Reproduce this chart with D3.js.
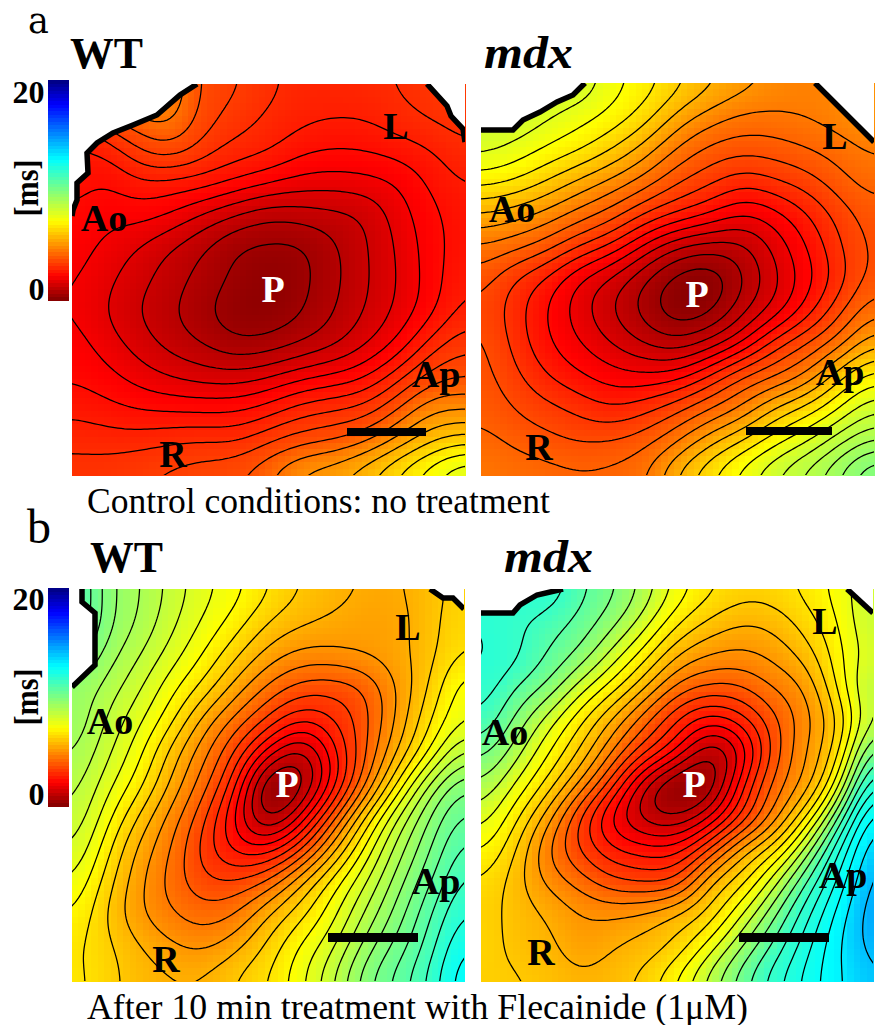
<!DOCTYPE html>
<html><head><meta charset="utf-8">
<style>html,body{margin:0;padding:0;background:#fff}svg{display:block}text{font-family:"Liberation Serif",serif}</style>
<script src="https://cdnjs.cloudflare.com/ajax/libs/d3/7.8.5/d3.min.js"></script>
</head><body><div id="c"></div>
<script>
// Isochrone index on a 13x13 lattice (row = top to bottom).
const isoControlWT = [
[7,12,13,12,9.7,9.2,8.3,7.6,7.7,7.8,8.1,8.5,9],
[7,10,11,11.5,9.5,8.6,7.8,7.3,7.05,7.1,7.7,8.2,8.5],
[7,7.1,9,9.8,8.5,7.6,7.2,6.3,6,6.1,6.5,7,7.9],
[6.5,5.95,6.8,6.7,6.5,5.85,5.2,4.6,4.5,4.7,5.1,6.3,7.1],
[5.9,5.3,5.5,5,3.9,3,2.25,2.5,2.75,3.1,4.6,5.7,6.7],
[5.5,4.8,4,3,2.1,1,.8,.8,1.85,2.95,4.2,5.6,6.6],
[5.2,4.3,3.4,2.5,1.65,.8,.2,.7,1.75,2.9,4.1,5.55,6.95],
[5.1,4,3,2.15,1.2,.3,.2,.9,2,3.1,4.3,5.75,7.5],
[5.5,4.6,3.6,2.65,2,1.2,1.4,2.1,2.8,3.95,5.3,7.6,8.8],
[5.9,5.4,4.6,4,3.6,3.5,4,4.8,5.3,6,7.75,9.6,10],
[6.75,6.4,6,5.85,5.8,5.85,6.5,7.6,8,8.5,10.2,11.9,12],
[7.75,7.6,7.6,7.95,8.1,8,9,9.7,10.1,11,12.5,14,14.7],
[8.5,8.6,9,9.3,9.7,10,11,12.5,13,14,15.5,17,18.5]];
const isoControlMdx = [
[18,18,18,18,16.4,15.6,14.4,13.3,12.5,11.8,11.4,11.5,12],
[18,18,17.2,16.4,15.7,14.6,12.7,11.6,10.8,10.85,11.15,11.6,12.2],
[17.4,16.75,15.9,15.25,14.1,12.6,10.9,9.75,9.4,9.55,10,10.55,11.2],
[15.4,15,14,12.8,11.75,10.6,9.1,8.3,7.35,8,8.6,9.75,10.55],
[13,12.45,11.7,10.6,9.6,8,7,6.05,4.95,5.7,7,8.5,9.6],
[10.9,10.4,9.5,8,6.8,4.75,3,2.5,2.7,4.35,6.1,8,9.4],
[9.6,7.9,6.8,4.9,3.7,2,.5,.1,1.9,3.8,5.65,7.6,9.6],
[8.9,7.5,6,4.45,3,1.6,.2,.7,2.8,4.4,6.6,8.9,10.9],
[9.4,7.7,6.2,5.1,4,3,2.4,3.5,5.1,7.8,9.2,10.7,13],
[9.45,8.35,7.05,6.2,5.5,5.3,5.65,7.3,9.25,10,11.3,14,15.65],
[9.8,9,8.4,7.8,7.1,7.75,8.85,10.1,11.2,13.3,14.6,16.2,18],
[10.4,9.8,9.35,8.95,9.15,9.7,10.95,12.8,14.2,15.8,17,18.9,20.3],
[11.1,10.7,10.5,10.3,10.4,10.9,13.4,15,16.6,18.15,19.6,21.3,23.5]];
const isoFlecWT = [
[24,20.4,19.2,17.7,16.4,15.4,14.15,13,12.4,11.9,11.9,12.6,13.5],
[24,20.4,19,17.35,15.9,14.6,13,12.2,11.8,11.5,11.6,12.7,13.8],
[22,19.6,18.2,16.6,15,13.25,11.6,10.7,10.8,11.2,11.7,12.7,14.2],
[20,18.7,17.3,15.4,13.8,11.6,9.8,8.6,8.4,9,11.2,13.1,15.9],
[20,18,16.35,14.45,11.7,9.7,7.9,6,7.1,8.7,11.35,14,16.1],
[19.3,17.35,15.5,12.7,10.35,8,4.6,2.2,5.6,9,12.1,15.1,18.5],
[18.6,16.5,14.55,11.85,9.5,6.55,.2,1.2,5.4,9.9,14.3,18.5,21],
[18,15.55,12.95,10.6,8.4,4.8,1.2,4.25,8.75,13.3,17.25,20.2,22.4],
[17.2,14.5,11.75,10.1,7.6,5.7,5.5,8,11.8,15.4,18.65,21,23.6],
[16.15,13.6,11.35,9.65,8.3,8.2,9.3,12,14.6,17,19.7,22,24.5],
[15.15,13,11.2,10.2,9.5,10,12.1,13.7,15.7,18.3,20.6,23,25.3],
[14.3,13.4,12.2,11.3,10.8,11.8,13.3,15.25,16.85,19.6,21.5,23.65,26.3],
[14.4,13.5,12.5,12.2,12.2,13.2,14.05,15.75,18,20.8,22.5,24.4,27]];
const isoFlecMdx = [
[22,22,22,20.3,19.3,17.75,15.7,14.35,13.6,13.7,14.4,15.5,17],
[22,21.2,20.5,19.75,18.45,16.6,14.2,12.8,12,12.35,13.6,15.1,17.3],
[22.3,21.4,20,18.9,16.7,14.55,12,11,10.8,11.35,12.5,14.8,16.7],
[21.8,20,19,16.6,14.6,12.2,9.65,8.85,8.9,10.2,11.1,14.5,17.8],
[21,18.9,16.7,14.35,11.9,9.3,7,5.3,6.7,8.8,10.7,13,17.6],
[19.5,17.6,15.2,12.95,10.1,7.4,5.15,1.6,3.9,8.7,11.1,13.7,20.2],
[18,16,13.75,10.95,7.5,2.8,.2,.6,6.1,9.6,11.3,15.7,22.8],
[16.7,14.4,11.6,7.9,4.45,2.4,1.9,4,7.2,10.5,14.1,19.4,25.2],
[15.2,13.25,10,8,6.25,5.7,5.6,8.2,11.8,13.7,17.65,22.2,26.2],
[14,12.5,10.85,9.7,8.3,7.95,8.1,12.2,13.6,16.8,20.25,23.5,26.6],
[13.5,12.7,12,11.1,11,11.4,12.45,13.3,16.1,19,21.85,24.6,26.8],
[13.7,12.6,12.4,11.3,11.95,12.4,13.2,15.6,18.2,20.4,22.8,25.1,26.4],
[13.3,13.2,12.8,12.3,12.6,13.4,15.3,17.6,19.7,21.7,23.5,24.9,26]];

const colorbarTicks = [0, 20];
const captions = ["Control conditions: no treatment", "After 10 min treatment with Flecainide (1μM)"];
const jetStops = [0, 2.2, 7.2, 12.8, 17.8, 20];
const jetColors = ["#800000", "#ff0000", "#ffff00", "#00ffff", "#0000ff", "#000080"];
// isochrone index -> ms
const msControlWT = [[0,5.5,10,12,17,20],[.2,2.2,3.7,4.9,7.4,8.8]];
const msControlMdx = [[0,6,11,18,26],[.1,2.3,4.5,8.3,11]];
const msFlecWT = [[0,5,8,12,16,21,24,27],[.1,2.2,3.4,5.6,7.6,10,11.3,13]];
const msFlecMdx = [[0,5,8,12,16,21,25,27],[.1,2.2,3.4,5.6,7.6,11.5,13,15]];

const panels = [
 {grid:isoControlWT, ms:msControlWT, x0:72,x1:465,y0:84,y1:475,
  masks:[[[72,84],[197,84],[180,95],[157,115],[133,125],[113,133],[97,143],[87,153],[88,173],[77,183],[77,200],[73,210],[72,216]],
         [[465,84],[427,84],[447,106],[451,116],[463,129],[465,142]]],
  labels:[["L",396,139,"#000"],["Ao",104,231,"#000"],["P",273,302,"#fff"],["Ap",436,387,"#000"],["R",173,467,"#000"]],
  bar:[347,426,432]},
 {grid:isoControlMdx, ms:msControlMdx, x0:481,x1:874,y0:83,y1:475,
  masks:[[[481,83],[585,83],[573,95],[557,102],[540,112],[523,120],[513,130],[481,130]],
         [[874,83],[815,83],[874,142]]],
  labels:[["L",835,149,"#000"],["Ao",512,222,"#000"],["P",697,307,"#fff"],["Ap",840,385,"#000"],["R",539,460,"#000"]],
  bar:[746,832,431]},
 {grid:isoFlecWT, ms:msFlecWT, x0:72,x1:464,y0:589,y1:981,
  masks:[[[72,589],[82,589],[82,602],[95,613],[95,665],[72,687]],
         [[464,589],[430,589],[443,598],[453,598],[464,609]]],
  labels:[["L",408,640,"#000"],["Ao",110,734,"#000"],["P",287,797,"#fff"],["Ap",436,894,"#000"],["R",166,972,"#000"]],
  bar:[328,418,937]},
 {grid:isoFlecMdx, ms:msFlecMdx, x0:481,x1:873,y0:589,y1:981,
  masks:[[[481,589],[563,589],[537,595],[520,605],[513,613],[481,613]],
         [[873,589],[847,589],[873,613]]],
  labels:[["L",825,634,"#000"],["Ao",505,745,"#000"],["P",694,797,"#fff"],["Ap",843,888,"#000"],["R",541,965,"#000"]],
  bar:[739,829,937]}
];
const jet = d3.scaleLinear().domain(jetStops).range(jetColors).clamp(true);

function cr(p0,p1,p2,p3,t){return .5*((2*p1)+(-p0+p2)*t+(2*p0-5*p1+4*p2-p3)*t*t+(-p0+3*p1-3*p2+p3)*t*t*t);}
function upsample(g,f){
  const n=g.length, m=(n-1)*f+1, out=new Float64Array(m*m);
  const at=(r,c)=>g[Math.max(0,Math.min(n-1,r))][Math.max(0,Math.min(n-1,c))];
  for(let j=0;j<m;j++){const rf=j/f,r=Math.min(n-2,Math.floor(rf)),tr=rf-r;
    for(let i=0;i<m;i++){const cf=i/f,c=Math.min(n-2,Math.floor(cf)),tc=cf-c;
      const col=[-1,0,1,2].map(d=>cr(at(r+d,c-1),at(r+d,c),at(r+d,c+1),at(r+d,c+2),tc));
      out[j*m+i]=cr(col[0],col[1],col[2],col[3],tr);}}
  // light smoothing of the lattice ripple
  const R=Math.round(f*.45), pass=(src,stepA,stepB)=>{
    const dst=new Float64Array(m*m);
    for(let a=0;a<m;a++)for(let b=0;b<m;b++){let s=0;
      for(let d=-R;d<=R;d++){const q=Math.max(0,Math.min(m-1,b+d));s+=src[a*stepA+q*stepB];}
      dst[a*stepA+b*stepB]=s/(2*R+1);}
    return dst;};
  let v=out; for(let k=0;k<2;k++){v=pass(v,m,1);v=pass(v,1,m);}
  return {m,values:v};
}
const svg=d3.select("#c").append("svg").attr("width",879).attr("height",1025);
const lineGen=d3.line();

panels.forEach((p,idx)=>{
  const g=svg.append("g");
  const id="clip"+idx;
  svg.append("clipPath").attr("id",id).append("rect").attr("x",p.x0).attr("y",p.y0).attr("width",p.x1-p.x0).attr("height",p.y1-p.y0);
  const toMs=d3.scaleLinear().domain(p.ms[0]).range(p.ms[1]);
  const rf=upsample(p.grid,5), rm=rf.m;
  const rx=d3.scaleBand().domain(d3.range(rm)).range([p.x0,p.x1]);
  const ry=d3.scaleBand().domain(d3.range(rm)).range([p.y0,p.y1]);
  const cells=[];for(let j=0;j<rm;j++)for(let i=0;i<rm;i++)cells.push([i,j]);
  g.append("g").attr("shape-rendering","crispEdges").selectAll("rect").data(cells).join("rect")
    .attr("x",d=>rx(d[0])).attr("y",d=>ry(d[1])).attr("width",rx.bandwidth()+.6).attr("height",ry.bandwidth()+.6)
    .attr("fill",d=>jet(toMs(rf.values[d[1]*rm+d[0]])));
  const cf=upsample(p.grid,10), cm=cf.m;
  const sx=d3.scaleLinear().domain([.5,cm-.5]).range([p.x0,p.x1]);
  const sy=d3.scaleLinear().domain([.5,cm-.5]).range([p.y0,p.y1]);
  const geo=d3.geoTransform({point(x,y){this.stream.point(sx(x),sy(y));}});
  const path=d3.geoPath(geo);
  const cs=d3.contours().size([cm,cm]).smooth(true).thresholds(d3.range(1,36))(Array.from(cf.values));
  g.append("g").attr("clip-path",`url(#${id})`).selectAll("path").data(cs).join("path")
    .attr("d",path).attr("fill","none").attr("stroke","#000").attr("stroke-width",1.25);
  p.masks.forEach(mask=>{
    g.append("path").attr("d",lineGen(mask)+"Z").attr("fill","#fff");
    g.append("path").attr("d",lineGen(mask.slice(1))).attr("fill","none").attr("stroke","#000").attr("stroke-width",5.5).attr("clip-path",`url(#${id})`);
  });
  g.selectAll("text.lab").data(p.labels).join("text").attr("class","lab")
    .attr("x",d=>d[1]).attr("y",d=>d[2]).attr("text-anchor","middle").attr("fill",d=>d[3])
    .attr("font-weight","bold").attr("font-size",38).text(d=>d[0]);
  g.append("rect").attr("x",p.bar[0]).attr("y",p.bar[2]-4).attr("width",p.bar[1]-p.bar[0]).attr("height",p.bar[2]>900?9:8).attr("fill","#000");
});

[{x:48,y0:80,y1:300,ms:188,t20:103,t0:300},{x:48,y0:588,y1:806,ms:697,t20:610,t0:805}].forEach(b=>{
  const n=64, s=d3.scaleLinear().domain([0,20]).range([b.y1,b.y0]);
  svg.append("g").attr("shape-rendering","crispEdges").selectAll("rect").data(d3.range(n)).join("rect")
    .attr("x",b.x).attr("width",20.5)
    .attr("y",d=>s((d+1)*20/n)).attr("height",d=>s(d*20/n)-s((d+1)*20/n)+.5)
    .attr("fill",d=>jet((d+.5)*20/n));
  svg.selectAll(null).data(colorbarTicks).join("text").attr("x",44.5).attr("y",d=>d?b.t20:b.t0)
    .attr("text-anchor","end").attr("font-weight","bold").attr("font-size",32).text(d=>d);
  svg.append("text").attr("transform",`translate(38,${b.ms}) rotate(-90)`).attr("text-anchor","middle")
    .attr("font-weight","bold").attr("font-size",34).attr("textLength",57).attr("lengthAdjust","spacingAndGlyphs").text("[ms]");
});

[["WT",70,68,"normal"],["mdx",484,68,"italic"],["WT",90,572,"normal"],["mdx",504,572,"italic"]].forEach(t=>{
  svg.append("text").attr("x",t[1]).attr("y",t[2]).attr("font-weight","bold").attr("font-style",t[3])
    .attr("font-size",t[0]==="WT"?44:46).attr("textLength",t[0]==="WT"?73:89).attr("lengthAdjust","spacingAndGlyphs").text(t[0]);
});
svg.append("text").attr("x",28).attr("y",33).attr("font-size",35).style("font-family","'DejaVu Serif',serif").text("a");
svg.append("text").attr("x",27).attr("y",543).attr("font-size",48).text("b");
svg.append("text").attr("x",87).attr("y",513).attr("font-size",35).attr("textLength",463).attr("lengthAdjust","spacingAndGlyphs").text(captions[0]);
svg.append("text").attr("x",87).attr("y",1019).attr("font-size",35).attr("textLength",661).attr("lengthAdjust","spacingAndGlyphs").text(captions[1]);
</script></body></html>
